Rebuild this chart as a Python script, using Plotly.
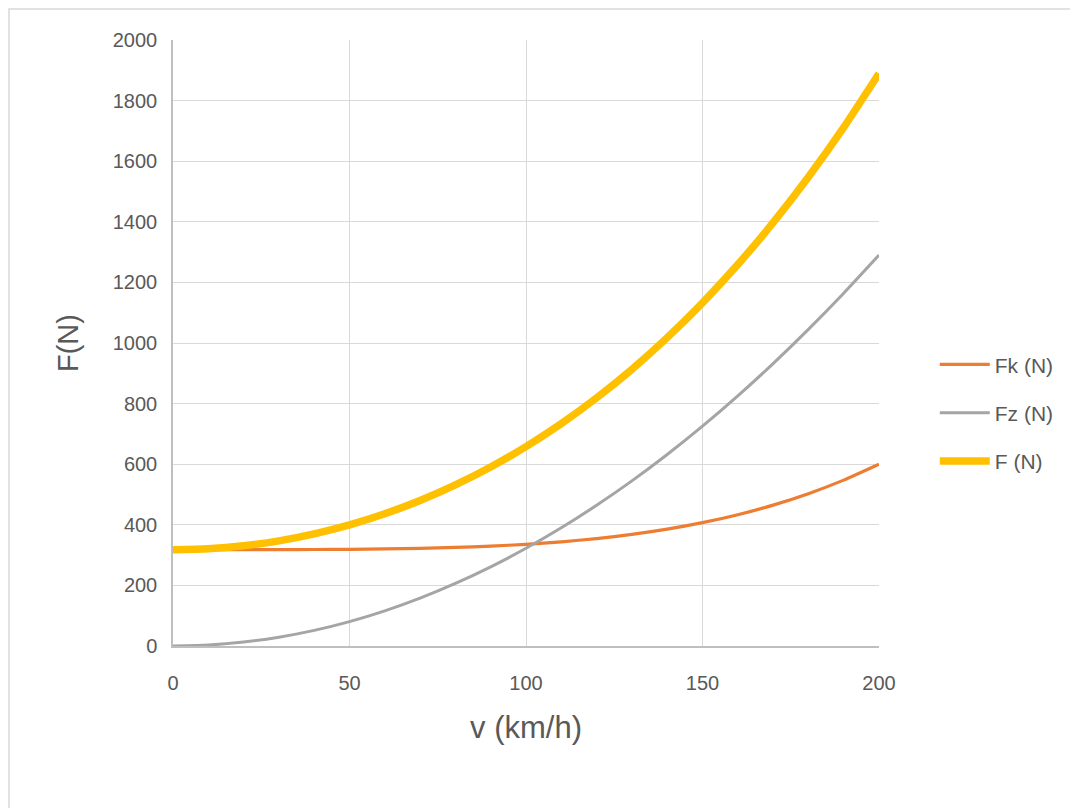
import plotly.graph_objects as go

v = [0, 10, 20, 30, 40, 50, 60, 70, 80, 90, 100, 110, 120, 130, 140, 150, 160, 170, 180, 190, 200]
fk = [318, 318, 318, 318.1, 318.5, 319.1, 320.3, 322.2, 325.2, 329.5, 335.6, 343.8, 354.5, 368.3,
      385.6, 407.1, 433.3, 465.0, 502.8, 547.4, 599.6]
fz = [0, 3.2, 12.9, 29.0, 51.6, 80.6, 116.1, 158.0, 206.4, 261.2, 322.5, 390.2, 464.4, 545.0,
      632.1, 725.6, 825.6, 932.0, 1044.9, 1164.2, 1290.0]
f_total = [318, 321.2, 330.9, 347.1, 370.1, 399.7, 436.4, 480.2, 531.6, 590.7, 658.1, 734.0, 818.9, 913.3,
           1017.7, 1132.7, 1258.9, 1397.0, 1547.7, 1711.6, 1889.6]

names = ["Fk (N)", "Fz (N)", "F (N)"]
colors = ["#ED7D31", "#A5A5A5", "#FFC000"]
widths = [3.2, 3, 7.5]
series = [fk, fz, f_total]

OFF = 8  # page body margin
W, H = 1078 - OFF, 808 - OFF
L, R, T, B = 173 - OFF, 879 - OFF, 40 - OFF, 646 - OFF

fig = go.Figure()
for name, ys, c, w in zip(names, series, colors, widths):
    fig.add_trace(go.Scatter(x=v, y=ys, mode="lines", name=name, legendgroup=name,
                             line=dict(color=c, width=w, shape="spline", smoothing=0.6)))

font = "Liberation Sans, Arial, sans-serif"
fig.update_layout(
    width=W, height=H,
    margin=dict(l=L, r=W - R, t=T, b=H - B, pad=0),
    paper_bgcolor="white", plot_bgcolor="white",
    font=dict(family=font, color="#595959", size=20),
    xaxis=dict(range=[0, 200], dtick=50, showgrid=True, gridcolor="#D9D9D9", gridwidth=1.3,
               zeroline=False, showline=True, linecolor="#BFBFBF", linewidth=1.5,
               ticks="", ticklabelstandoff=18,
               title=dict(text="v (km/h)", font=dict(size=31, color="#595959"), standoff=24)),
    yaxis=dict(range=[0, 2000], dtick=200, showgrid=True, gridcolor="#D9D9D9", gridwidth=1.3,
               zeroline=False, showline=True, linecolor="#BFBFBF", linewidth=1.5,
               ticks="", ticklabelstandoff=10,
               title=dict(text="F(N)", font=dict(size=29, color="#595959"), standoff=26)),
    legend=dict(x=1.079, y=0.385, xanchor="left", yanchor="middle", font=dict(size=21, color="#595959"),
                tracegroupgap=18, itemwidth=50, bgcolor="rgba(0,0,0,0)"),
    showlegend=True,
)
fig.add_shape(type="rect", xref="paper", yref="paper",
              x0=(1 - L) / (R - L), x1=(1067 - L) / (R - L),
              y0=(B - 820) / (B - T), y1=(B - 1) / (B - T),
              line=dict(color="#D9D9D9", width=1.5), fillcolor="rgba(0,0,0,0)", layer="below")
fig.write_html("out.html")
